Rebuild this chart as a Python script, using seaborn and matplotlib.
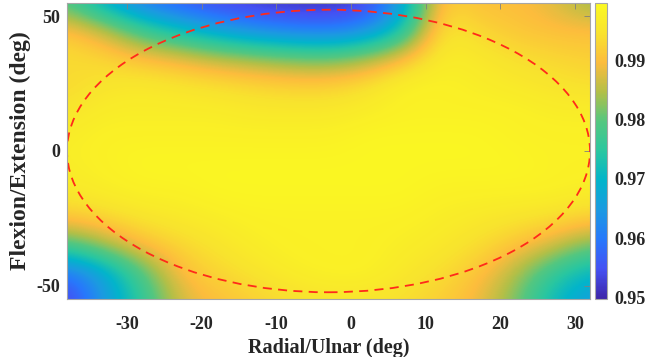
import numpy as np
import pandas as pd
import matplotlib
matplotlib.use("Agg")
import matplotlib.pyplot as plt
import seaborn as sns
from matplotlib.colors import LinearSegmentedColormap
from matplotlib.patches import Ellipse

# grid (deg)
radial_deg = [-38, -33, -28, -23, -18, -13, -8, -3, 2, 7, 12, 17, 22, 27, 32]
flexion_deg = [55, 45, 35, 25, 15, 5, -5, -15, -25, -35, -45, -55]

# one row per flexion level, left to right along radial_deg
row_p55 = [0.979, 0.968, 0.960, 0.956, 0.953, 0.952, 0.951, 0.951, 0.952, 0.965, 0.993, 0.990, 0.990, 0.988, 0.983]
row_p45 = [0.991, 0.986, 0.977, 0.971, 0.966, 0.962, 0.960, 0.959, 0.962, 0.972, 0.996, 0.993, 0.991, 0.990, 0.990]
row_p35 = [0.994, 0.993, 0.990, 0.988, 0.985, 0.983, 0.981, 0.980, 0.983, 0.989, 0.997, 0.996, 0.994, 0.993, 0.992]
row_p25 = [0.993, 0.995, 0.996, 0.995, 0.994, 0.993, 0.992, 0.992, 0.994, 0.998, 0.998, 0.997, 0.996, 0.995, 0.994]
row_p15 = [0.995, 0.997, 0.997, 0.997, 0.997, 0.996, 0.996, 0.996, 0.997, 0.998, 0.998, 0.998, 0.998, 0.997, 0.997]
row_p05 = [0.997, 0.998, 0.998, 0.998, 0.998, 0.998, 0.998, 0.998, 0.999, 0.999, 0.999, 0.999, 0.998, 0.998, 0.998]
row_m05 = [0.997, 0.998, 0.999, 0.999, 0.999, 0.999, 0.999, 0.999, 0.999, 0.999, 0.999, 0.999, 0.999, 0.998, 0.998]
row_m15 = [0.996, 0.997, 0.998, 0.998, 0.999, 0.999, 0.999, 0.999, 0.999, 0.999, 0.998, 0.998, 0.998, 0.998, 0.997]
row_m25 = [0.991, 0.993, 0.995, 0.996, 0.997, 0.998, 0.998, 0.998, 0.998, 0.998, 0.997, 0.996, 0.995, 0.994, 0.992]
row_m35 = [0.978, 0.984, 0.990, 0.993, 0.995, 0.997, 0.998, 0.998, 0.998, 0.997, 0.996, 0.994, 0.991, 0.987, 0.981]
row_m45 = [0.959, 0.967, 0.979, 0.990, 0.993, 0.995, 0.997, 0.998, 0.998, 0.996, 0.994, 0.991, 0.985, 0.976, 0.970]
row_m55 = [0.952, 0.965, 0.975, 0.987, 0.990, 0.992, 0.994, 0.995, 0.995, 0.994, 0.992, 0.989, 0.982, 0.971, 0.965]

cbar_ticks = [0.95, 0.96, 0.97, 0.98, 0.99]
vmin, vmax = 0.9497, 0.9997

# workspace boundary (dashed ellipse)
ell_center = (-3, 0)
ell_width = 70
ell_height = 105

xticks = [-30, -20, -10, 0, 10, 20, 30]
yticks = [-50, 0, 50]

df = pd.DataFrame([row_p55, row_p45, row_p35, row_p25, row_p15, row_p05,
                   row_m05, row_m15, row_m25, row_m35, row_m45, row_m55],
                  index=flexion_deg, columns=radial_deg)

# parula-like map
parula = LinearSegmentedColormap.from_list("parula", [
    (0.0, (0.2422, 0.1504, 0.6603)),
    (0.1, (0.2691, 0.3185, 0.9529)),
    (0.2, (0.1540, 0.4710, 0.9870)),
    (0.3, (0.1093, 0.6039, 0.8835)),
    (0.4, (0.0091, 0.7065, 0.7942)),
    (0.5, (0.1636, 0.7792, 0.6260)),
    (0.6, (0.3300, 0.7800, 0.5000)),
    (0.7, (0.7000, 0.7500, 0.2800)),
    (0.8, (0.9900, 0.7382, 0.2382)),
    (0.9, (0.9750, 0.8900, 0.1800)),
    (1.0, (0.9850, 0.9750, 0.1300)),
])

sns.set_theme(style="white")
plt.rcParams['font.family'] = ['Liberation Serif', 'DejaVu Serif']
plt.rcParams['font.weight'] = 'bold'
plt.rcParams['axes.unicode_minus'] = False

fig = plt.figure(figsize=(6.59, 3.57), dpi=100)
ax = fig.add_axes([0.1017, 0.1625, 0.7936, 0.8291])
cax = fig.add_axes([0.903, 0.1625, 0.018, 0.8291])

dx = (radial_deg[1] - radial_deg[0]) / 2
dy = (flexion_deg[0] - flexion_deg[1]) / 2
ext = [radial_deg[0] - dx, radial_deg[-1] + dx, flexion_deg[-1] - dy, flexion_deg[0] + dy]
im = ax.imshow(df.values, extent=ext, origin='upper', cmap=parula, vmin=vmin, vmax=vmax,
               interpolation='bicubic', aspect='auto')

ax.add_patch(Ellipse(ell_center, ell_width, ell_height, fill=False, edgecolor='#ff2a1a',
                     linestyle=(0, (5, 3.5)), linewidth=1.3))

ax.set_xlim(radial_deg[0], radial_deg[-1])
ax.set_ylim(flexion_deg[-1], flexion_deg[0])
ax.set_xticks(xticks)
ax.set_yticks(yticks)
ax.tick_params(direction='in', length=4, width=0.6, color='#808080', labelsize=13,
               labelcolor='#262626', top=True, right=True)
ax.tick_params(axis='x', pad=12)
ax.tick_params(axis='y', pad=5)
for lab in ax.get_xticklabels() + ax.get_yticklabels():
    lab.set_fontweight('bold')
for s in ax.spines.values():
    s.set_color('#a6a6a6')
    s.set_linewidth(0.8)
ax.set_xlabel('Radial/Ulnar (deg)', fontsize=14.5, fontweight='bold', color='#262626', labelpad=4)
ax.set_ylabel('Flexion/Extension (deg)', fontsize=17, fontweight='bold', color='#262626', labelpad=4)

cb = fig.colorbar(im, cax=cax, ticks=cbar_ticks)
cb.ax.tick_params(direction='in', length=3, width=0.6, color='#808080', labelsize=13,
                  labelcolor='#262626', pad=5)
cb.ax.set_yticklabels([f"{t:.2f}" for t in cbar_ticks], fontweight='bold')
cb.outline.set_edgecolor('#a6a6a6')
cb.outline.set_linewidth(0.8)

fig.savefig('out.png', dpi=100)
